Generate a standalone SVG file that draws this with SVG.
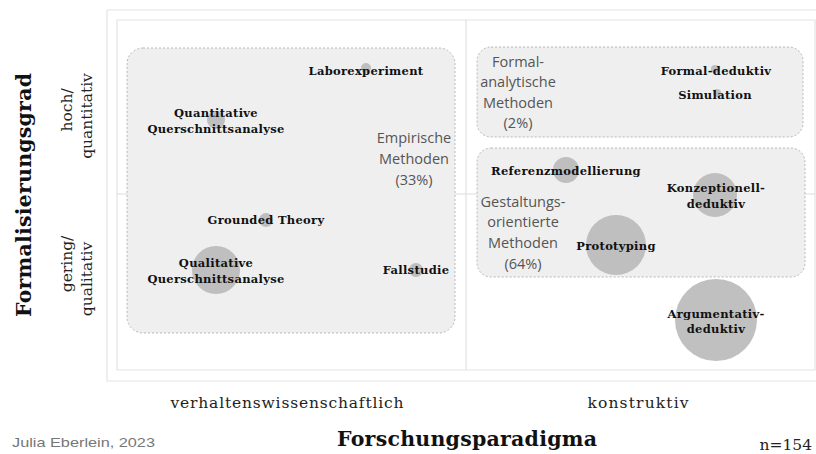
<svg xmlns="http://www.w3.org/2000/svg" width="816" height="454" viewBox="0 0 816 454">
<style>
.frame{fill:none;stroke:#e3e3e3;stroke-width:1.2}
.grid{stroke:#dcdcdc;stroke-width:1}
.box{fill:#efefef;stroke:#a8a8a8;stroke-width:0.8;stroke-dasharray:2 2}
.bub{fill:#b9b9b9;fill-opacity:0.9}
.lbl{font-family:"DejaVu Serif",serif;font-weight:bold;font-size:11.5px;fill:#111;text-anchor:middle;letter-spacing:0.3px}
.grp{font-family:"Open Sans","Liberation Sans",sans-serif;font-size:14.5px;fill:#555;text-anchor:middle}
.ax{font-family:"DejaVu Serif",serif;font-size:15.5px;fill:#222;text-anchor:middle}
.axb{font-family:"DejaVu Serif",serif;font-weight:bold;font-size:20.5px;fill:#111;text-anchor:middle}
</style>
<rect width="816" height="454" fill="#fff"/>
<g id="frame">
<path class="frame" d="M107,10 H816 M107,10 V381 H816"/>
<path class="frame" d="M117,20 H815 V370 H117 Z"/>
<line class="grid" x1="117" y1="194" x2="815" y2="194"/>
<line class="grid" x1="466" y1="20" x2="466" y2="370"/>
</g>
<g id="empirisch">
<rect class="box" x="127" y="48" width="328" height="285" rx="16"/>
<text class="grp"><tspan x="414" y="143">Empirische</tspan><tspan x="414" y="164">Methoden</tspan><tspan x="414" y="185">(33%)</tspan></text>
</g>
<g id="formalanalytisch">
<rect class="box" x="477" y="47" width="326" height="90" rx="14"/>
<text class="grp"><tspan x="518" y="67">Formal-</tspan><tspan x="518" y="87">analytische</tspan><tspan x="518" y="108">Methoden</tspan><tspan x="518" y="128">(2%)</tspan></text>
</g>
<g id="gestaltungsorientiert">
<rect class="box" x="477" y="148" width="328" height="129" rx="14"/>
<text class="grp"><tspan x="523" y="207">Gestaltungs-</tspan><tspan x="523" y="227">orientierte</tspan><tspan x="523" y="248">Methoden</tspan><tspan x="523" y="269">(64%)</tspan></text>
</g>
<g id="laborexperiment"><circle class="bub" cx="366" cy="68" r="5"/><text class="lbl" x="366" y="75">Laborexperiment</text></g>
<g id="quantitative"><circle class="bub" cx="216" cy="120" r="9"/><text class="lbl"><tspan x="216" y="117">Quantitative</tspan><tspan x="216" y="133">Querschnittsanalyse</tspan></text></g>
<g id="grounded"><circle class="bub" cx="266" cy="220" r="7"/><text class="lbl" x="266" y="224">Grounded Theory</text></g>
<g id="qualitative"><circle class="bub" cx="216" cy="270" r="24"/><text class="lbl"><tspan x="216" y="267">Qualitative</tspan><tspan x="216" y="283">Querschnittsanalyse</tspan></text></g>
<g id="fallstudie"><circle class="bub" cx="416" cy="270" r="7"/><text class="lbl" x="416" y="274">Fallstudie</text></g>
<g id="formaldeduktiv"><circle class="bub" cx="715" cy="69" r="4"/><text class="lbl" x="716" y="75">Formal-deduktiv</text></g>
<g id="simulation"><circle class="bub" cx="717" cy="93" r="4"/><text class="lbl" x="715" y="99">Simulation</text></g>
<g id="referenz"><circle class="bub" cx="566" cy="170" r="13"/><text class="lbl" x="566" y="175">Referenzmodellierung</text></g>
<g id="konzeptionell"><circle class="bub" cx="715" cy="195" r="22"/><text class="lbl"><tspan x="716" y="192">Konzeptionell-</tspan><tspan x="716" y="208">deduktiv</tspan></text></g>
<g id="prototyping"><circle class="bub" cx="616" cy="245" r="30"/><text class="lbl" x="616" y="250">Prototyping</text></g>
<g id="argumentativ"><circle class="bub" cx="716" cy="320" r="41"/><text class="lbl"><tspan x="716" y="318">Argumentativ-</tspan><tspan x="716" y="333">deduktiv</tspan></text></g>
<g id="connectors"></g>
<g id="axes">
<text class="axb" transform="translate(31,195) rotate(-90)" textLength="244" lengthAdjust="spacing">Formalisierungsgrad</text>
<text class="ax" transform="translate(72,110) rotate(-90)">hoch/</text>
<text class="ax" transform="translate(92,116) rotate(-90)">quantitativ</text>
<text class="ax" transform="translate(72,264) rotate(-90)">gering/</text>
<text class="ax" transform="translate(92,279) rotate(-90)">qualitativ</text>
<text class="ax" x="287" y="408" textLength="233" lengthAdjust="spacing">verhaltenswissenschaftlich</text>
<text class="ax" x="638" y="408" textLength="101" lengthAdjust="spacing">konstruktiv</text>
<text class="axb" x="467" y="446" textLength="260" lengthAdjust="spacing">Forschungsparadigma</text>
<text x="12" y="447" textLength="143" lengthAdjust="spacingAndGlyphs" style="font-family:'Liberation Sans',sans-serif;font-size:13px;fill:#777">Julia Eberlein, 2023</text>
<text class="ax" x="812" y="450" style="text-anchor:end">n=154</text>
</g>
</svg>
